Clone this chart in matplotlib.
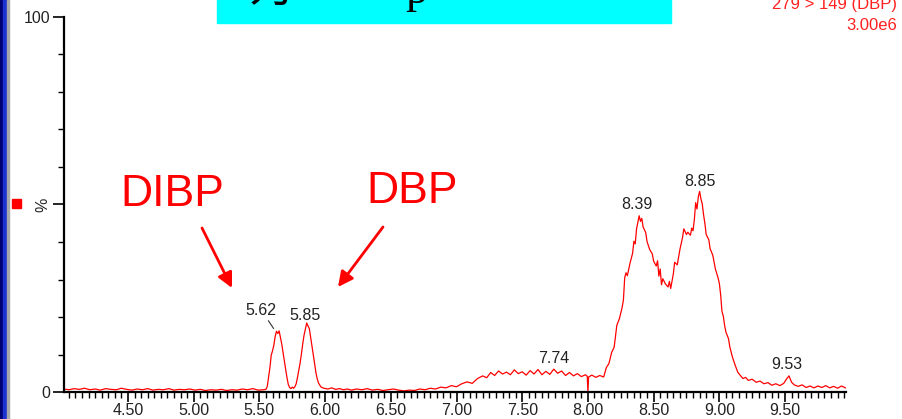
import matplotlib
matplotlib.use("Agg")
import matplotlib.pyplot as plt
from matplotlib.patches import Rectangle
from matplotlib.ticker import MultipleLocator, FixedLocator

plt.rcParams["font.family"] = ["Liberation Sans", "DejaVu Sans"]

W, H = 902, 419

# retention time (min) and relative intensity (%)
rt = [4.01, 4.05, 4.09, 4.13, 4.17, 4.21, 4.25, 4.29, 4.33, 4.37, 4.41, 4.45, 4.49, 4.53,
      4.57, 4.61, 4.65, 4.69, 4.73, 4.77, 4.81, 4.85, 4.89, 4.93, 4.97, 5.01, 5.05, 5.09,
      5.13, 5.17, 5.21, 5.25, 5.29, 5.33, 5.37, 5.41, 5.45, 5.49, 5.53, 5.55,
      5.56, 5.57, 5.58, 5.59, 5.60, 5.61, 5.62, 5.63, 5.64, 5.65, 5.66, 5.67, 5.68, 5.69,
      5.70, 5.71, 5.72, 5.73, 5.74, 5.75, 5.76, 5.77, 5.78, 5.79, 5.80, 5.81, 5.82, 5.83,
      5.84, 5.85, 5.86, 5.87, 5.88, 5.89, 5.90, 5.91, 5.92, 5.93, 5.94, 5.95, 5.96, 5.97,
      5.99, 6.02, 6.05, 6.08, 6.11, 6.14, 6.17, 6.20, 6.24, 6.28, 6.32, 6.36, 6.40, 6.44,
      6.48, 6.52, 6.56, 6.60, 6.64, 6.68, 6.72, 6.76, 6.80, 6.84, 6.88, 6.92, 6.96, 7.00,
      7.04, 7.08, 7.12, 7.16, 7.20, 7.23, 7.26, 7.29, 7.32, 7.35, 7.38, 7.41, 7.44, 7.47,
      7.50, 7.53, 7.56, 7.59, 7.62, 7.65, 7.68, 7.71, 7.74, 7.77, 7.80, 7.83, 7.86, 7.89,
      7.92, 7.95, 7.98, 7.995, 8.00, 8.005, 8.03, 8.06, 8.09, 8.12, 8.14, 8.16, 8.18, 8.20,
      8.22, 8.24, 8.26, 8.27, 8.28, 8.29, 8.30, 8.32, 8.34, 8.35, 8.36, 8.37, 8.38, 8.39,
      8.40, 8.41, 8.42, 8.44, 8.45, 8.47, 8.49, 8.50, 8.52, 8.53, 8.54, 8.55, 8.56, 8.57,
      8.59, 8.61, 8.62, 8.63, 8.65, 8.66, 8.68, 8.70, 8.72, 8.73, 8.75, 8.76, 8.78, 8.79,
      8.80, 8.81, 8.82, 8.83, 8.84, 8.85, 8.86, 8.87, 8.88, 8.89, 8.90, 8.92, 8.93, 8.95,
      8.97, 8.99, 9.00, 9.01, 9.02, 9.03, 9.04, 9.05, 9.07, 9.08, 9.10, 9.12, 9.14, 9.16,
      9.18, 9.20, 9.22, 9.25, 9.28, 9.31, 9.34, 9.37, 9.40, 9.43, 9.46, 9.49, 9.51, 9.53,
      9.55, 9.57, 9.60, 9.63, 9.66, 9.69, 9.72, 9.75, 9.78, 9.81, 9.84, 9.87, 9.90, 9.93,
      9.96]
intensity = [0.8, 0.6, 0.9, 0.7, 1.0, 0.6, 0.8, 0.5, 0.9, 0.7, 0.6, 1.0, 0.7, 0.5,
             0.8, 0.6, 0.9, 0.5, 0.7, 0.6, 0.9, 0.5, 0.7, 0.6, 0.8, 0.5, 0.7, 0.4,
             0.6, 0.5, 0.7, 0.4, 0.6, 0.5, 0.8, 0.6, 0.9, 0.5, 0.6, 0.7,
             1.5, 4.0, 6.5, 9.8, 11.0, 12.5, 14.8, 16.2, 15.6, 16.3, 14.5, 12.8, 10.5, 8.2,
             6.0, 3.8, 2.0, 1.2, 0.9, 1.3, 1.0, 1.4, 2.2, 3.9, 5.8, 7.8, 10.2, 12.9,
             15.2, 16.8, 18.4, 17.6, 16.9, 14.6, 12.3, 10.1, 7.6, 5.2, 3.5, 2.4, 1.8, 1.3,
             1.0, 0.8, 1.1, 0.7, 0.9, 0.6, 0.8, 0.5, 0.8, 0.6, 0.9, 0.5, 0.7, 0.4,
             0.6, 0.8, 0.5, 0.3, 0.5, 0.4, 0.8, 0.6, 1.0, 0.8, 1.3, 1.1, 1.7, 1.4,
             2.2, 2.7, 2.3, 3.6, 4.3, 3.8, 5.2, 4.4, 5.6, 4.8, 5.3, 4.6, 5.9, 4.9,
             5.4, 4.5, 5.7, 4.8, 6.0, 4.6, 5.5, 4.7, 6.1, 5.0, 5.6, 4.4, 5.2, 4.3,
             4.9, 4.1, 4.6, 4.2, 0.0, 4.0, 4.5, 3.9, 4.4, 4.0, 6.5, 7.6, 10.5, 12.0,
             17.8, 19.6, 22.5, 24.5, 30.5, 31.8, 31.0, 34.3, 37.0, 40.2, 39.5, 43.5, 45.2, 47.0,
             45.5, 46.3, 44.0, 42.5, 40.1, 38.0, 36.8, 34.9, 33.6, 35.0, 30.9, 32.8, 28.6, 30.2,
             28.8, 28.0, 29.5, 27.6, 31.5, 34.6, 33.9, 38.0, 41.2, 43.5, 42.0, 42.6, 41.8, 43.7,
             43.0, 46.0, 50.5, 48.8, 52.0, 53.5, 51.5, 50.2, 47.3, 45.0, 42.0, 40.6, 38.2, 36.5,
             32.8, 30.5, 29.0, 26.0, 21.5, 20.3, 17.8, 16.0, 14.2, 12.0, 9.3, 7.2, 5.3, 4.4,
             3.6, 3.9, 3.1, 3.4, 2.6, 2.9, 2.2, 2.5, 1.8, 2.2, 1.7, 2.3, 3.4, 4.3,
             2.6, 1.9, 1.5, 1.9, 1.2, 1.6, 1.1, 1.6, 1.2, 1.7, 1.1, 1.5, 1.0, 1.6,
             1.1]

# peak labels: retention time, height of the label anchor, label offset (pixels)
peak_rt = [5.62, 5.85, 7.74, 8.39, 8.85, 9.53]
peak_height = [16.3, 18.4, 6.0, 47.0, 53.5, 4.3]
peak_dx = [-14, 0, 0, -2, 0, -2]
peak_dy = [20, 8, 11, 11, 10, 11]

channel_text = ["279 > 149 (DBP)", "3.00e6"]

fig = plt.figure(figsize=(W / 100, H / 100), dpi=100)
ax = fig.add_axes([64 / W, 1 - 392 / H, (846 - 64) / W, (392 - 17) / H])

ax.plot(rt, intensity, color="#ff0000", lw=0.9)
ax.set_xlim(4.013, 9.964)
ax.set_ylim(0, 100)

for s in ("top", "right"):
    ax.spines[s].set_visible(False)
for s in ("left", "bottom"):
    ax.spines[s].set_linewidth(1.6)
    ax.spines[s].set_color("black")

ax.xaxis.set_major_locator(MultipleLocator(0.5))
ax.xaxis.set_minor_locator(MultipleLocator(0.05))
ax.xaxis.set_major_formatter(lambda v, p: f"{v:.2f}")
ax.tick_params(axis="x", which="major", length=7, width=1.2, pad=1, labelsize=11.5, labelcolor="#222222")
ax.tick_params(axis="x", which="minor", length=4, width=1.0)

ax.yaxis.set_major_locator(FixedLocator([0, 50, 100]))
ax.yaxis.set_minor_locator(MultipleLocator(10))
ax.set_yticklabels(["0", "%", "100"])
ax.get_yticklabels()[1].set_rotation(90)
ax.get_yticklabels()[1].set_va("center")
ax.tick_params(axis="y", which="major", length=8, width=1.2, pad=2, labelsize=11.5, labelcolor="#222222")
ax.tick_params(axis="y", which="minor", length=4, width=1.0)

for x, y, dx, dy in zip(peak_rt, peak_height, peak_dx, peak_dy):
    ax.annotate(f"{x:.2f}", (x, y), xytext=(dx * 0.72, dy * 0.72), textcoords="offset points",
                ha="center", va="center", fontsize=11.5, color="#222222")
# leader line for the 5.62 label
ax.annotate("", (peak_rt[0], peak_height[0]), xytext=(-6, 9), textcoords="offset points",
            arrowprops=dict(arrowstyle="-", color="#333333", lw=0.8))

# compound call-outs
fig.text(172 / W, 1 - 194 / H, "DIBP", fontsize=32, color="#ff0000", ha="center", va="center")
fig.text(412 / W, 1 - 191 / H, "DBP", fontsize=32, color="#ff0000", ha="center", va="center")
arrow = dict(arrowstyle="-|>,head_length=0.9,head_width=0.45", color="#ff0000", lw=2.0, shrinkA=0, shrinkB=0)
ax.annotate("", xy=(232, H - 288), xytext=(202, H - 228), xycoords="figure pixels",
            textcoords="figure pixels", arrowprops=arrow)
ax.annotate("", xy=(338, H - 287), xytext=(383, H - 227), xycoords="figure pixels",
            textcoords="figure pixels", arrowprops=arrow)

# channel info, top right
fig.text(897 / W, 1 - 4 / H, channel_text[0], fontsize=12, color="#ff2020", ha="right", va="center")
fig.text(897 / W, 1 - 25 / H, channel_text[1], fontsize=12, color="#ff2020", ha="right", va="center")

# window decorations: blue frame on the left, red marker, cyan title box cut off at the top
fig.patches.append(Rectangle((0, 0), 3 / W, 1, transform=fig.transFigure, color="#000070", zorder=0))
fig.patches.append(Rectangle((3 / W, 0), 4 / W, 1, transform=fig.transFigure, color="#1e32d2", zorder=0))
fig.patches.append(Rectangle((7 / W, 0), 2 / W, 1, transform=fig.transFigure, color="#a8a8a8", zorder=0))
fig.patches.append(Rectangle((12 / W, 1 - 208 / H), 9 / W, 9 / H, transform=fig.transFigure,
                             color="#ff0000", zorder=0))
fig.patches.append(Rectangle((217 / W, 1 - 23 / H), (671 - 217) / W, 23 / H, transform=fig.transFigure,
                             color="#00ffff", zorder=0))
fig.text(271 / W, 1 - 3 / H, "为", fontsize=32, color="black", ha="center", va="baseline",
         family=["Noto Sans CJK SC", "DejaVu Sans"])
fig.text(416 / W, 1 - 3 / H, "p", fontsize=32, color="black", ha="center", va="baseline",
         family=["Liberation Serif", "DejaVu Serif"])

fig.savefig("out.png", dpi=100)
